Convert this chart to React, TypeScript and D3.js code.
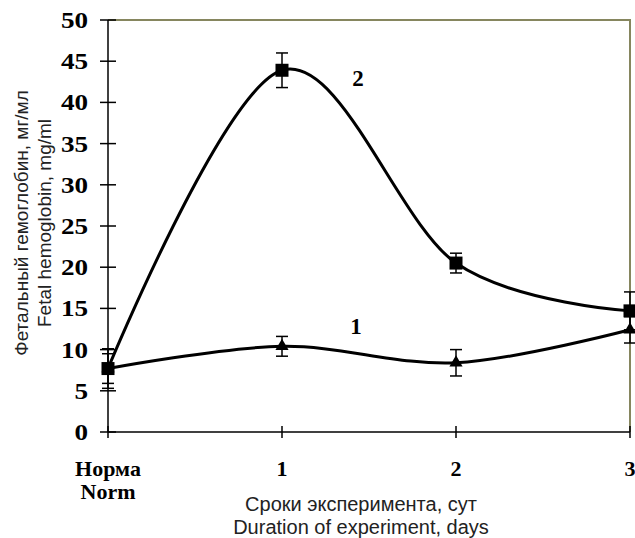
import React from 'react';
import * as d3 from 'd3';

// categories on the x axis (two-line labels)
const categories = ['Норма\nNorm', '1', '2', '3'];
// series 2 (squares) and series 1 (triangles), mg/ml
const series2 = [7.7, 43.9, 20.5, 14.7];
const err2 = [2.4, 2.1, 1.2, 2.3];
const series1 = [7.7, 10.4, 8.4, 12.4];
const err1 = [1.8, 1.2, 1.6, 1.6];
const yTicks = [0, 5, 10, 15, 20, 25, 30, 35, 40, 45, 50];

const width = 635;
const height = 538;
const margin = { top: 20, right: 5, bottom: 106, left: 108 };

function App() {
  const x = d3
    .scalePoint<string>()
    .domain(categories)
    .range([margin.left, width - margin.right]);
  const y = d3
    .scaleLinear()
    .domain([0, 50])
    .range([height - margin.bottom, margin.top]);

  const line = d3
    .line<number>()
    .x((d, i) => x(categories[i]) as number)
    .y((d) => y(d))
    .curve(d3.curveCardinal);

  const x0 = margin.left;
  const x1 = width - margin.right;
  const y0 = y(0);
  const y1 = y(50);
  const serif = "'Liberation Serif', 'Times New Roman', serif";
  const sans = "'Liberation Sans', Arial, sans-serif";

  const errorBars = (vals: number[], errs: number[], key: string) =>
    vals.map((v, i) => {
      const cx = x(categories[i]) as number;
      return (
        <g key={key + i} stroke="#000" strokeWidth={1.5}>
          <line x1={cx} x2={cx} y1={y(v + errs[i])} y2={y(v - errs[i])} />
          <line x1={cx - 6} x2={cx + 6} y1={y(v + errs[i])} y2={y(v + errs[i])} />
          <line x1={cx - 6} x2={cx + 6} y1={y(v - errs[i])} y2={y(v - errs[i])} />
        </g>
      );
    });

  return (
    <svg
      width={width}
      height={height}
      style={{ position: 'absolute', left: 0, top: 0, background: '#fff' }}
    >
      {/* frame: top and right */}
      <path
        d={`M${x0},${y1}H${x1}V${y0}`}
        fill="none"
        stroke="#86865f"
        strokeWidth={2}
      />
      {/* axes */}
      <line x1={x0} x2={x0} y1={y1} y2={y0} stroke="#000" strokeWidth={1.5} />
      <line x1={x0} x2={x1} y1={y0} y2={y0} stroke="#000" strokeWidth={1.5} />
      {yTicks.map((t) => (
        <g key={'yt' + t}>
          <line x1={x0 - 8} x2={x0 + 8} y1={y(t)} y2={y(t)} stroke="#000" strokeWidth={1.5} />
          <g transform={`translate(${x0 - 20},${y(t)}) scale(1.18,1)`}>
            <text
              dy="0.35em"
              textAnchor="end"
              fontFamily={serif}
              fontWeight="bold"
              fontSize={23}
            >
              {t}
            </text>
          </g>
        </g>
      ))}
      {categories.map((c) => {
        const cx = x(c) as number;
        return (
          <g key={'xt' + c}>
            <line x1={cx} x2={cx} y1={y0 - 6} y2={y0 + 6} stroke="#000" strokeWidth={1.5} />
            {c.split('\n').map((s, j) => (
              <text
                key={j}
                x={cx}
                y={476 + j * 23}
                textAnchor="middle"
                fontFamily={serif}
                fontWeight="bold"
                fontSize={22}
              >
                {s}
              </text>
            ))}
          </g>
        );
      })}

      {/* axis titles */}
      <text x={361} y={511} textAnchor="middle" fontFamily={sans} fontSize={20} fill="#222">
        Сроки эксперимента, сут
      </text>
      <text x={361} y={534} textAnchor="middle" fontFamily={sans} fontSize={20} fill="#222">
        Duration of experiment, days
      </text>
      <g transform="translate(28,223) rotate(-90)">
        <text x={0} y={0} textAnchor="middle" fontFamily={sans} fontSize={19} fill="#222">
          Фетальный гемоглобин, мг/мл
        </text>
        <text x={0} y={23} textAnchor="middle" fontFamily={sans} fontSize={19} fill="#222">
          Fetal hemoglobin, mg/ml
        </text>
      </g>

      {/* curves */}
      <path d={line(series2) || ''} fill="none" stroke="#000" strokeWidth={3} />
      <path d={line(series1) || ''} fill="none" stroke="#000" strokeWidth={3} />

      {errorBars(series2, err2, 'e2')}
      {errorBars(series1, err1, 'e1')}

      {series1.map((v, i) => (
        <path
          key={'m1' + i}
          d={d3.symbol(d3.symbolTriangle, 75)() || ''}
          transform={`translate(${x(categories[i])},${y(v)})`}
          fill="#000"
        />
      ))}
      {series2.map((v, i) => (
        <rect
          key={'m2' + i}
          x={(x(categories[i]) as number) - 6.5}
          y={y(v) - 6.5}
          width={13}
          height={13}
          fill="#000"
        />
      ))}

      {/* series labels */}
      <text x={358} y={86} textAnchor="middle" fontFamily={serif} fontWeight="bold" fontSize={23}>
        2
      </text>
      <text x={356} y={334} textAnchor="middle" fontFamily={serif} fontWeight="bold" fontSize={23}>
        1
      </text>
    </svg>
  );
}

export default App;
